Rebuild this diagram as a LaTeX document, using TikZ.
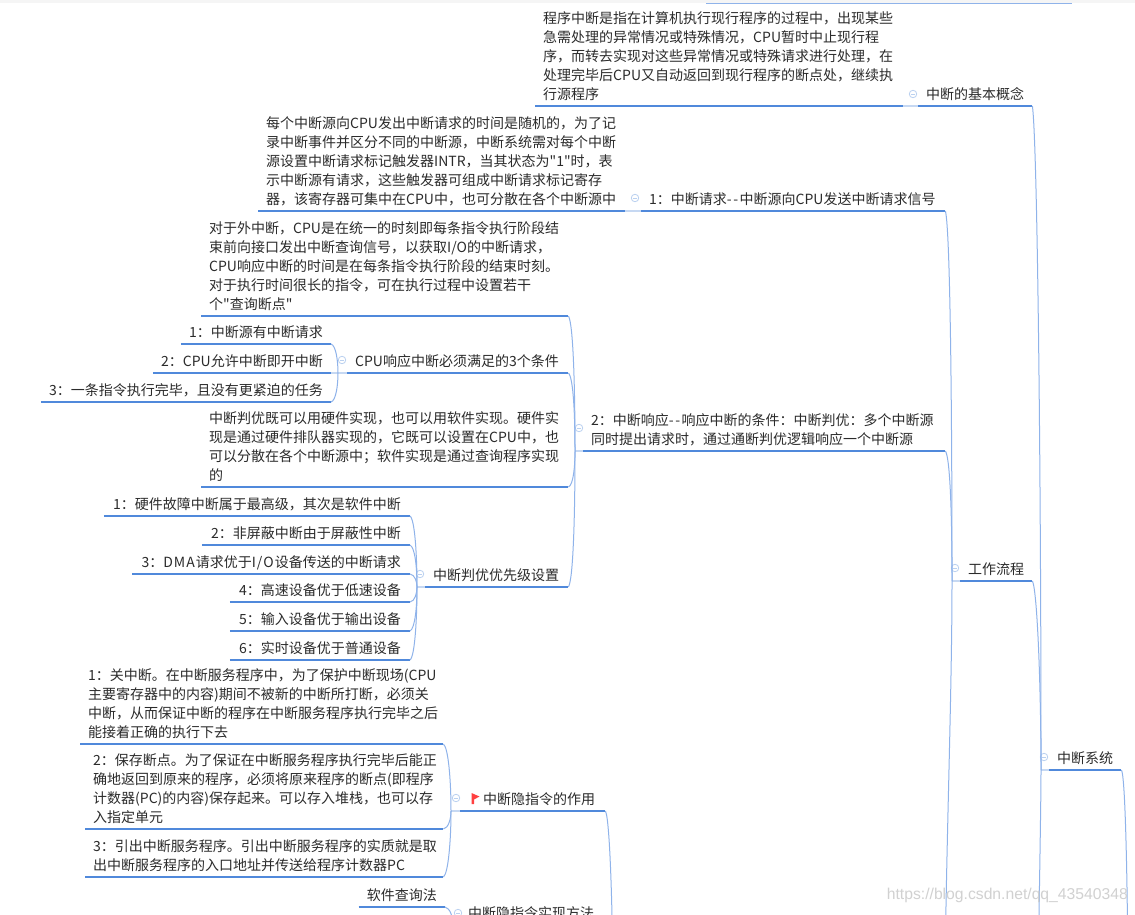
\documentclass[tikz,border=0pt]{standalone}
\usepackage{fontspec}
\newfontfamily\cjkf{Noto Sans CJK SC}
\newfontfamily\wmfont{Liberation Sans}
\definecolor{ul}{HTML}{5089DB}
\definecolor{stemc}{HTML}{8FB3EA}
\definecolor{lightc}{HTML}{C6D8F2}
\definecolor{txt}{HTML}{2B2B2B}
\newcommand{\boxfont}{\cjkf\fontsize{14}{19}\selectfont\lineskiplimit=-100pt\relax}
\tikzset{
  box/.style={inner xsep=8pt,inner ysep=.8pt,text=txt,font=\boxfont},
  body/.style={box,align=left},
  pbox/.style={box,inner xsep=9pt},
  uline/.style={draw=ul,line width=2.2pt},
  stem/.style={draw=stemc,line width=1pt},
  lite/.style={draw=lightc,line width=2.2pt},
  fold/.style={circle,draw=lightc!80!stemc,line width=.8pt,minimum size=7.5pt,inner sep=0pt,
    path picture={\draw[lightc!80!stemc,line width=.8pt] ([xshift=1.8pt]path picture bounding box.west) -- ([xshift=-1.8pt]path picture bounding box.east);}},
}
% multi-line box: name, left x, bottom y, width, text
\newcommand{\tlbox}[5]{\node[body,text width=#4-16pt,anchor=south west] (#1) at (#2,#3) {#5\strut};
  \draw[uline] (#1.south west) -- (#1.south east);}
% single-line box anchored at its right end
\newcommand{\srbox}[4]{\node[box,anchor=south east] (#1) at (#2,#3) {#4\strut};
  \draw[uline] (#1.south west) -- (#1.south east);}
\newcommand{\prbox}[4]{\node[pbox,anchor=south east] (#1) at (#2,#3) {#4\strut};
  \draw[uline] (#1.south west) -- (#1.south east);}
% single-line box anchored at its left end
\newcommand{\slbox}[4]{\node[box,anchor=south west] (#1) at (#2,#3) {#4\strut};
  \draw[uline] (#1.south west) -- (#1.south east);}
\newcommand{\cdn}[3]{\draw[stem] (#1.south east) .. controls +(5,#3/8) and +(0,-#3) .. (#2);}
\newcommand{\cupp}[3]{\draw[stem] (#1.south east) .. controls +(5,-#3/8) and +(0,#3) .. (#2);}
\newcommand{\dd}{-\kern1.5pt-\kern1.5pt}
\begin{document}
\begin{tikzpicture}[x=1pt,y=-1pt]
\useasboundingbox (0,0) rectangle (1135,914);
\clip (0,0) rectangle (1135,914);
\fill[white] (0,0) rectangle (1135,914);
\fill[black!4] (0,0) rectangle (1135,3);
\draw[stemc,line width=.8pt] (706,3) -- (1072,3);

% stem points
\coordinate (Rs) at (1041,770);
\coordinate (Ws) at (952,581);
\coordinate (Cs) at (575,451);
\coordinate (Ps) at (338,373);
\coordinate (Qs) at (417,587);
\coordinate (Hs) at (451,811);
\coordinate (Is) at (453,925);
\coordinate (Xs) at (613,1000);
\coordinate (Rp) at (1128,1000);
\coordinate (Rc) at (1038,1000);
\coordinate (Wc) at (945,1000);

% root and main topics
\slbox{root}{1049}{770}{中断系统}
\slbox{work}{960}{581}{工作流程}
\begin{scope}[box/.append style={inner ysep=.2pt}]
\slbox{concept}{918}{106}{中断的基本概念}
\tlbox{conceptb}{535}{106}{368}{程序中断是指在计算机执行现行程序的过程中，出现某些\\急需处理的异常情况或特殊情况，CPU暂时中止现行程\\序，而转去实现对这些异常情况或特殊请求进行处理，在\\处理完毕后CPU又自动返回到现行程序的断点处，继续执\\行源程序}
\tlbox{resp}{583}{451}{362}{2：中断响应\dd 响应中断的条件：中断判优：多个中断源\\同时提出请求时，通过通断判优逻辑响应一个中断源}
\end{scope}

\tlbox{req}{641}{211}{304}{1：中断请求\dd 中断源向CPU发送中断请求信号}
\tlbox{reqb}{258}{211}{367}{每个中断源向CPU发出中断请求的时间是随机的，为了记\\录中断事件并区分不同的中断源，中断系统需对每个中断\\源设置中断请求标记触发器INTR，当其状态为"1"时，表\\示中断源有请求，这些触发器可组成中断请求标记寄存\\器，该寄存器可集中在CPU中，也可分散在各个中断源中}

\tlbox{respa}{201}{316}{367}{对于外中断，CPU是在统一的时刻即每条指令执行阶段结\\束前向接口发出中断查询信号，以获取I/O的中断请求，\\CPU响应中断的时间是在每条指令执行阶段的结束时刻。\\对于执行时间很长的指令，可在执行过程中设置若干\\个"查询断点"}
\tlbox{cond}{347}{373}{221}{CPU响应中断必须满足的3个条件}
\srbox{c1}{331}{344}{1：中断源有中断请求}
\srbox{c2}{331}{373}{2：CPU允许中断即开中断}
\srbox{c3}{331}{402}{3：一条指令执行完毕，且没有更紧迫的任务}
\tlbox{respb}{201}{487}{367}{中断判优既可以用硬件实现，也可以用软件实现。硬件实\\现是通过硬件排队器实现的，它既可以设置在CPU中，也\\可以分散在各个中断源中；软件实现是通过查询程序实现\\的}
\tlbox{prio}{425}{587}{143}{中断判优优先级设置}
\prbox{p1}{410}{516}{1：硬件故障中断属于最高级，其次是软件中断}
\prbox{p2}{410}{545}{2：非屏蔽中断由于屏蔽性中断}
\prbox{p3}{410}{574}{3：D\kern1pt M\kern1pt A\kern1pt 请求优于I\kern1pt /\kern1pt O\kern1pt 设备传送的中断请求}
\prbox{p4}{410}{602}{4：高速设备优于低速设备}
\prbox{p5}{410}{631}{5：输入设备优于输出设备}
\prbox{p6}{410}{660}{6：实时设备优于普通设备}

\node[box,anchor=south west,text width=129pt,align=left] (hid) at (460,811) {\hspace{15pt}中断隐指令的作用\strut};
\draw[uline] (hid.south west) -- (hid.south east);
\tlbox{h1}{80}{744}{363}{1：关中断。在中断服务程序中，为了保护中断现场(CPU\\主要寄存器中的内容)期间不被新的中断所打断，必须关\\中断，从而保证中断的程序在中断服务程序执行完毕之后\\能接着正确的执行下去}
\tlbox{h2}{85}{829}{358}{2：保存断点。为了保证在中断服务程序执行完毕后能正\\确地返回到原来的程序，必须将原来程序的断点(即程序\\计数器(PC)的内容)保存起来。可以存入堆栈，也可以存\\入指定单元}
\tlbox{h3}{85}{877}{358}{3：引出中断服务程序。引出中断服务程序的实质就是取\\出中断服务程序的入口地址并传送给程序计数器PC}
\srbox{sw}{445}{907}{软件查询法}
\slbox{impl}{460}{925}{中断隐指令实现方法}
\fill[red!75!white] (471.5,793) -- (479.5,796.5) -- (474,799.5) -- (474,804) -- (471.5,804) -- cycle;

% fold marks
\node[fold] (f0) at (1044,757) {};
\node[fold] (f1) at (955,568) {};
\node[fold] (f2) at (913,94) {};
\node[fold] (f3) at (635,198) {};
\node[fold] (f4) at (579,428) {};
\node[fold] (f5) at (342,360) {};
\node[fold] (f6) at (420,574) {};
\node[fold] (f7) at (456,798) {};
\node[fold] (f8) at (458,913) {};

% short links next to the fold marks
\draw[lite] (Rs) -- (root.south west);
\draw[lite] (Ws) -- (work.south west);
\draw[lite] (conceptb.south east) -- (concept.south west);
\draw[lite] (reqb.south east) -- (req.south west);
\draw[lite] (Cs) -- (resp.south west);
\draw[lite] (c2.south east) -- (cond.south west);
\draw[lite] (Qs) -- (prio.south west);
\draw[lite] (Hs) -- (hid.south west);

% connectors
\cdn{root}{Rp}{60}
\cdn{concept}{Rs}{300}
\cdn{work}{Rs}{80}
\draw[stem] (Rs) .. controls +(0,40) and +(0,-40) .. (Rc);
\cdn{req}{Ws}{160}
\cdn{resp}{Ws}{60}
\draw[stem] (Ws) .. controls +(0,120) and +(0,-120) .. (Wc);
\cdn{respa}{Cs}{60}
\cdn{cond}{Cs}{35}
\cupp{respb}{Cs}{15}
\cupp{prio}{Cs}{60}
\cdn{c1}{Ps}{12}
\cupp{c3}{Ps}{12}
\cdn{p1}{Qs}{30}
\cdn{p2}{Qs}{20}
\cdn{p3}{Qs}{5}
\cupp{p4}{Qs}{6}
\cupp{p5}{Qs}{20}
\cupp{p6}{Qs}{30}
\cdn{h1}{Hs}{30}
\cupp{h2}{Hs}{8}
\cupp{h3}{Hs}{28}
\cdn{sw}{Is}{8}
\cdn{hid}{Xs}{70}

\node[anchor=east,inner sep=0pt,text=black!18,font=\wmfont\fontsize{15.7}{18}\selectfont] (wm) at (1128,895) {https://blog.csdn.net/qq\_43540348};
\end{tikzpicture}
\end{document}
